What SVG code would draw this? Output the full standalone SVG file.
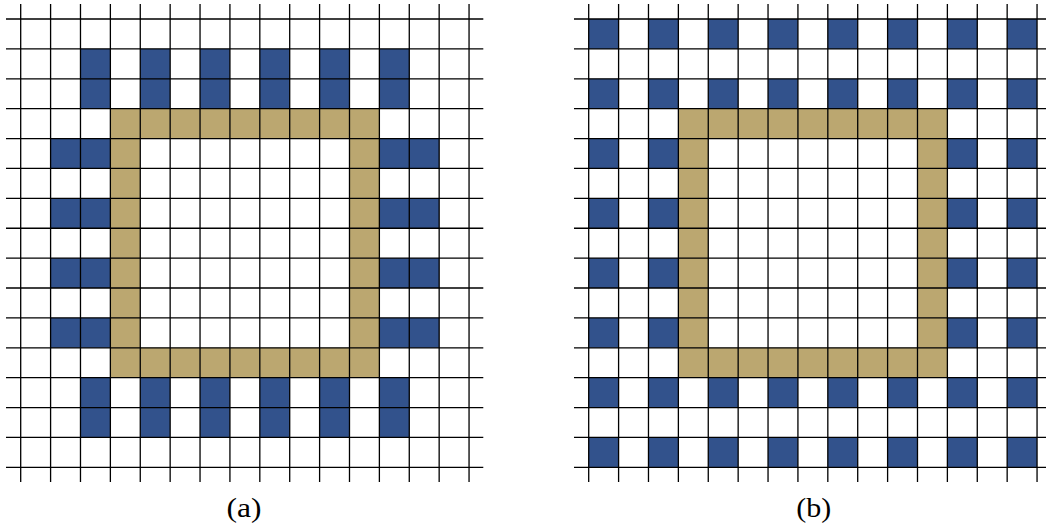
<svg xmlns="http://www.w3.org/2000/svg" width="1046" height="526" viewBox="0 0 1046 526">
<style>
.blue{fill:#32528c}
.tan{fill:#bba770;fill-rule:evenodd}
.grid{fill:none;stroke:#000;stroke-width:1.3}
.lbl{font-family:"Liberation Serif","DejaVu Serif",serif;font-size:28px;fill:#000;text-anchor:middle}
</style>
<rect width="1046" height="526" fill="#fff"/>
<g id="panel-a">
<g id="cells-a" transform="translate(20.7,19) scale(29.89)">
<path class="tan" d="M3 3H12V12H3ZM4 4V11H11V4Z"/>
<rect class="blue" x="2" y="1" width="1" height="2"/>
<rect class="blue" x="4" y="1" width="1" height="2"/>
<rect class="blue" x="6" y="1" width="1" height="2"/>
<rect class="blue" x="8" y="1" width="1" height="2"/>
<rect class="blue" x="10" y="1" width="1" height="2"/>
<rect class="blue" x="12" y="1" width="1" height="2"/>
<rect class="blue" x="2" y="12" width="1" height="2"/>
<rect class="blue" x="4" y="12" width="1" height="2"/>
<rect class="blue" x="6" y="12" width="1" height="2"/>
<rect class="blue" x="8" y="12" width="1" height="2"/>
<rect class="blue" x="10" y="12" width="1" height="2"/>
<rect class="blue" x="12" y="12" width="1" height="2"/>
<rect class="blue" x="1" y="4" width="2" height="1"/>
<rect class="blue" x="1" y="6" width="2" height="1"/>
<rect class="blue" x="1" y="8" width="2" height="1"/>
<rect class="blue" x="1" y="10" width="2" height="1"/>
<rect class="blue" x="12" y="4" width="2" height="1"/>
<rect class="blue" x="12" y="6" width="2" height="1"/>
<rect class="blue" x="12" y="8" width="2" height="1"/>
<rect class="blue" x="12" y="10" width="2" height="1"/>
</g>
<path id="grid-a" class="grid" d="M6 19H483.3M6 48.89H483.3M6 78.78H483.3M6 108.67H483.3M6 138.56H483.3M6 168.45H483.3M6 198.34H483.3M6 228.23H483.3M6 258.12H483.3M6 288.01H483.3M6 317.9H483.3M6 347.79H483.3M6 377.68H483.3M6 407.57H483.3M6 437.46H483.3M6 467.35H483.3M20.7 4V482M50.59 4V482M80.48 4V482M110.37 4V482M140.26 4V482M170.15 4V482M200.04 4V482M229.93 4V482M259.82 4V482M289.71 4V482M319.6 4V482M349.49 4V482M379.38 4V482M409.27 4V482M439.16 4V482M469.05 4V482"/>
<text class="lbl" x="244" y="517" textLength="35" lengthAdjust="spacingAndGlyphs">(a)</text>
</g>
<g id="panel-b">
<g id="cells-b" transform="translate(588.7,19) scale(29.89)">
<path class="tan" d="M3 3H12V12H3ZM4 4V11H11V4Z"/>
<rect class="blue" x="0" y="0" width="1" height="1"/>
<rect class="blue" x="2" y="0" width="1" height="1"/>
<rect class="blue" x="4" y="0" width="1" height="1"/>
<rect class="blue" x="6" y="0" width="1" height="1"/>
<rect class="blue" x="8" y="0" width="1" height="1"/>
<rect class="blue" x="10" y="0" width="1" height="1"/>
<rect class="blue" x="12" y="0" width="1" height="1"/>
<rect class="blue" x="14" y="0" width="1" height="1"/>
<rect class="blue" x="0" y="2" width="1" height="1"/>
<rect class="blue" x="2" y="2" width="1" height="1"/>
<rect class="blue" x="4" y="2" width="1" height="1"/>
<rect class="blue" x="6" y="2" width="1" height="1"/>
<rect class="blue" x="8" y="2" width="1" height="1"/>
<rect class="blue" x="10" y="2" width="1" height="1"/>
<rect class="blue" x="12" y="2" width="1" height="1"/>
<rect class="blue" x="14" y="2" width="1" height="1"/>
<rect class="blue" x="0" y="12" width="1" height="1"/>
<rect class="blue" x="2" y="12" width="1" height="1"/>
<rect class="blue" x="4" y="12" width="1" height="1"/>
<rect class="blue" x="6" y="12" width="1" height="1"/>
<rect class="blue" x="8" y="12" width="1" height="1"/>
<rect class="blue" x="10" y="12" width="1" height="1"/>
<rect class="blue" x="12" y="12" width="1" height="1"/>
<rect class="blue" x="14" y="12" width="1" height="1"/>
<rect class="blue" x="0" y="14" width="1" height="1"/>
<rect class="blue" x="2" y="14" width="1" height="1"/>
<rect class="blue" x="4" y="14" width="1" height="1"/>
<rect class="blue" x="6" y="14" width="1" height="1"/>
<rect class="blue" x="8" y="14" width="1" height="1"/>
<rect class="blue" x="10" y="14" width="1" height="1"/>
<rect class="blue" x="12" y="14" width="1" height="1"/>
<rect class="blue" x="14" y="14" width="1" height="1"/>
<rect class="blue" x="0" y="4" width="1" height="1"/>
<rect class="blue" x="2" y="4" width="1" height="1"/>
<rect class="blue" x="12" y="4" width="1" height="1"/>
<rect class="blue" x="14" y="4" width="1" height="1"/>
<rect class="blue" x="0" y="6" width="1" height="1"/>
<rect class="blue" x="2" y="6" width="1" height="1"/>
<rect class="blue" x="12" y="6" width="1" height="1"/>
<rect class="blue" x="14" y="6" width="1" height="1"/>
<rect class="blue" x="0" y="8" width="1" height="1"/>
<rect class="blue" x="2" y="8" width="1" height="1"/>
<rect class="blue" x="12" y="8" width="1" height="1"/>
<rect class="blue" x="14" y="8" width="1" height="1"/>
<rect class="blue" x="0" y="10" width="1" height="1"/>
<rect class="blue" x="2" y="10" width="1" height="1"/>
<rect class="blue" x="12" y="10" width="1" height="1"/>
<rect class="blue" x="14" y="10" width="1" height="1"/>
</g>
<path id="grid-b" class="grid" d="M574 19H1046M574 48.89H1046M574 78.78H1046M574 108.67H1046M574 138.56H1046M574 168.45H1046M574 198.34H1046M574 228.23H1046M574 258.12H1046M574 288.01H1046M574 317.9H1046M574 347.79H1046M574 377.68H1046M574 407.57H1046M574 437.46H1046M574 467.35H1046M588.7 4V482M618.59 4V482M648.48 4V482M678.37 4V482M708.26 4V482M738.15 4V482M768.04 4V482M797.93 4V482M827.82 4V482M857.71 4V482M887.6 4V482M917.49 4V482M947.38 4V482M977.27 4V482M1007.16 4V482M1037.05 4V482"/>
<text class="lbl" x="813.8" y="517" textLength="35" lengthAdjust="spacingAndGlyphs">(b)</text>
</g>
</svg>
